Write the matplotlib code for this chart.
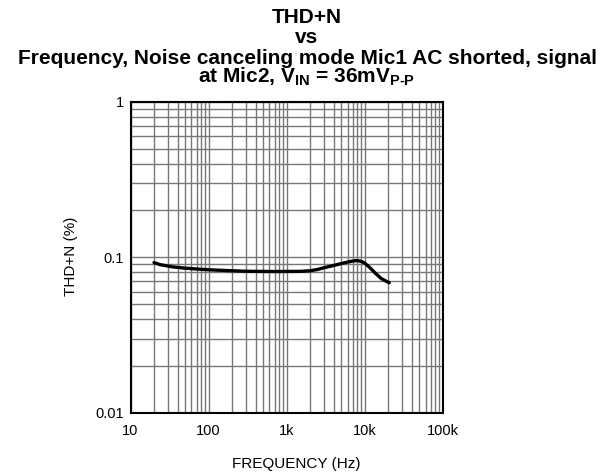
import numpy as np
import matplotlib
matplotlib.use("Agg")
import matplotlib.pyplot as plt
from matplotlib.ticker import FixedLocator, FixedFormatter, LogLocator, NullFormatter

plt.rcParams['font.family'] = ['Liberation Sans', 'DejaVu Sans']
plt.rcParams['mathtext.fontset'] = 'custom'
plt.rcParams['mathtext.rm'] = 'Liberation Sans:bold'
plt.rcParams['mathtext.it'] = 'Liberation Sans:bold'
plt.rcParams['mathtext.bf'] = 'Liberation Sans:bold'

# THD+N curve
freq_hz = [20, 24, 35, 50, 77, 100, 140, 200, 300, 500, 700, 1000, 1500, 2000,
           2500, 3000, 4000, 5000, 6000, 7000, 8000, 9000, 10000, 11600,
           13800, 16300, 19300, 20500]
thdn_pct = [0.0923, 0.0895, 0.0866, 0.0850, 0.0837, 0.0830, 0.0824, 0.0818,
            0.0812, 0.0810, 0.0809, 0.0810, 0.0811, 0.0818, 0.0835, 0.0855,
            0.0885, 0.0910, 0.0930, 0.0945, 0.0952, 0.0940, 0.0915, 0.0856,
            0.0784, 0.0727, 0.0696, 0.0685]

x_ticks = [10, 100, 1000, 10000, 100000]
x_labels = ['10', '100', '1k', '10k', '100k']
y_ticks = [0.01, 0.1, 1]
y_labels = ['0.01', '0.1', '1']

W, H = 605, 474
fig = plt.figure(figsize=(W / 100, H / 100), dpi=100)
ax = fig.add_axes([130.5 / W, 1 - 412.7 / H, 312.5 / W, 311.0 / H])

ax.set_xscale('log')
ax.set_yscale('log')
ax.set_xlim(10, 100000)
ax.set_ylim(0.01, 1)

ax.xaxis.set_major_locator(FixedLocator(x_ticks))
ax.xaxis.set_major_formatter(FixedFormatter(x_labels))
ax.yaxis.set_major_locator(FixedLocator(y_ticks))
ax.yaxis.set_major_formatter(FixedFormatter(y_labels))
ax.xaxis.set_minor_locator(LogLocator(base=10, subs=np.arange(2, 10)))
ax.yaxis.set_minor_locator(LogLocator(base=10, subs=np.arange(2, 10)))
ax.xaxis.set_minor_formatter(NullFormatter())
ax.yaxis.set_minor_formatter(NullFormatter())

ax.grid(True, which='both', color='#777777', linewidth=1.0)
ax.set_axisbelow(True)
ax.tick_params(which='both', length=0, labelsize=10.5)
ax.tick_params(axis='x', pad=8)
ax.tick_params(axis='y', pad=5)

for sp in ax.spines.values():
    sp.set_linewidth(1.5)
    sp.set_color('black')

ax.plot(freq_hz, thdn_pct, color='black', linewidth=2.4, solid_capstyle='round')

# axis labels
fig.text(296.5 / W, 1 - 468 / H, 'FREQUENCY (Hz)', ha='center', va='baseline', fontsize=11)
fig.text(75 / W, 1 - 256 / H, 'THD+N (%)', ha='center', va='baseline', fontsize=11,
         rotation=90, rotation_mode='anchor')

# title
title_kw = dict(ha='center', va='baseline', fontsize=15, fontweight='bold')
tx = 307 / W
fig.text(tx, 1 - 23 / H, 'THD+N', **title_kw)
fig.text(tx, 1 - 43 / H, 'vs', **title_kw)
fig.text(tx, 1 - 64 / H, 'Frequency, Noise canceling mode Mic1 AC shorted, signal', **title_kw)
fig.text(tx, 1 - 83 / H, r'at Mic2, V$_{IN}$ = 36mV$_{P\text{-}P}$', **title_kw)

fig.savefig('out.png', dpi=100)
